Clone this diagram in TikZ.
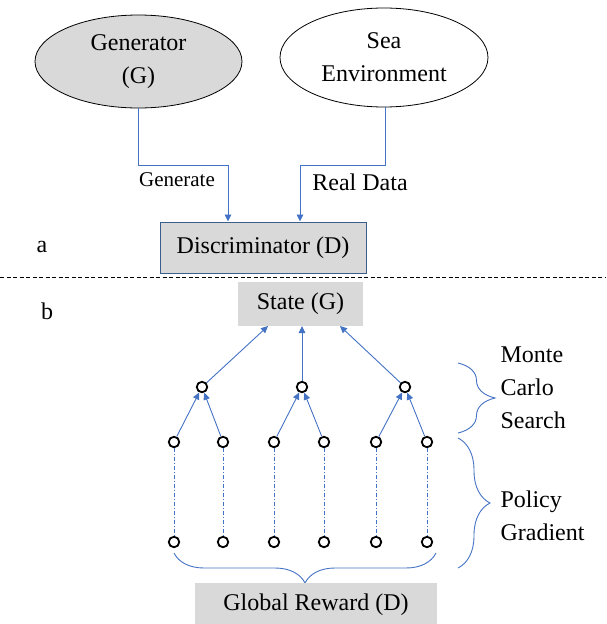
\documentclass[tikz,border=0pt]{standalone}
\usepackage{fontspec}
\setmainfont{Liberation Serif}
\usetikzlibrary{arrows.meta,decorations.pathreplacing,calc,shapes.geometric}
\definecolor{conn}{HTML}{4472C4}
\definecolor{boxgray}{HTML}{D9D9D9}
\definecolor{boxedge}{HTML}{3A5F8F}
\begin{document}
\begin{tikzpicture}[x=1pt,y=-1pt,
  every node/.style={font=\fontsize{24}{33}\selectfont},
  oval/.style={ellipse, draw=black, line width=0.8pt, inner sep=0pt, align=center},
  link/.style={draw=conn, line width=0.9pt, -{Triangle[length=7pt,width=6.5pt]}},
  dot/.style={circle, draw=black, line width=1.8pt, minimum size=10.5pt, inner sep=0pt},
  dashdot/.style={draw=conn, line width=0.7pt, dash pattern=on 4pt off 2pt on 1pt off 2pt},
  graybox/.style={fill=boxgray, inner sep=0pt},
  bracestyle/.style={draw=conn, line width=0.9pt, decorate},
  lbl/.style={align=left, anchor=west}]
\useasboundingbox (0,0) rectangle (606,624);
% part a
\node[oval, fill=boxgray, minimum width=207pt, minimum height=93pt] (gen) at (138.5,61.5) {Generator\\(G)};
\node[oval, fill=white, minimum width=208pt, minimum height=99pt] (sea) at (384,57.5) {Sea\\Environment};
\node[graybox, draw=boxedge, line width=1pt, minimum width=206pt, minimum height=51pt] (disc) at (263,247.5) {Discriminator (D)};
\coordinate (dg1) at (138,165);
\coordinate (dg2) at (228,165);
\coordinate (ds1) at (385,165);
\coordinate (ds2) at (300,165);
\draw[link] (gen.south -| dg1) -- (dg1) -- (dg2) -- (dg2 |- disc.north);
\draw[link] (sea.south -| ds1) -- (ds1) -- (ds2) -- (ds2 |- disc.north);
\node[font=\fontsize{21}{25}\selectfont] (lgen) at (177,180) {Generate};
\node (lreal) at (360,182) {Real Data};
\node (la) at (42,247) {a};
\draw[black, line width=0.7pt, dash pattern=on 4pt off 2.5pt] (0,277) -- (606,277);
% part b
\node (lb) at (47,311) {b};
\node[graybox, minimum width=125pt, minimum height=44pt] (state) at (300.5,304) {State (G)};
\node[dot] (m1) at (202,387) {};
\node[dot] (m2) at (302,387) {};
\node[dot] (m3) at (405,387) {};
\foreach \i/\x in {1/174,2/223,3/274,4/324,5/376,6/427}{
  \node[dot] (l\i) at (\x,442) {};
  \node[dot] (b\i) at (\x,542) {};
  \draw[dashdot] (l\i) -- (b\i);
}
\coordinate (s1) at (268,326);
\coordinate (s2) at (302,326);
\coordinate (s3) at (340,326);
\draw[link] (m1) -- (s1);
\draw[link] (m2) -- (s2);
\draw[link] (m3) -- (s3);
\draw[link] (l1) -- (m1);
\draw[link] (l2) -- (m1);
\draw[link] (l3) -- (m2);
\draw[link] (l4) -- (m2);
\draw[link] (l5) -- (m3);
\draw[link] (l6) -- (m3);
% braces
\coordinate (bra) at (436,553);
\coordinate (brb) at (174,553);
\draw[bracestyle, decoration={brace, amplitude=30pt}] (bra) -- (brb);
\coordinate (mca) at (458,363);
\coordinate (mcb) at (458,433);
\draw[bracestyle, decoration={brace, amplitude=37pt}] (mca) -- (mcb);
\coordinate (pga) at (458,438);
\coordinate (pgb) at (458,568);
\draw[bracestyle, decoration={brace, amplitude=32pt}] (pga) -- (pgb);
\node[lbl, align=left] (mc) at (497,388) {Monte\\Carlo\\Search};
\node[lbl, align=left] (pg) at (497,516) {Policy\\Gradient};
\node[graybox, minimum width=242pt, minimum height=44pt] (reward) at (316,605) {Global Reward (D)};
\end{tikzpicture}
\end{document}
